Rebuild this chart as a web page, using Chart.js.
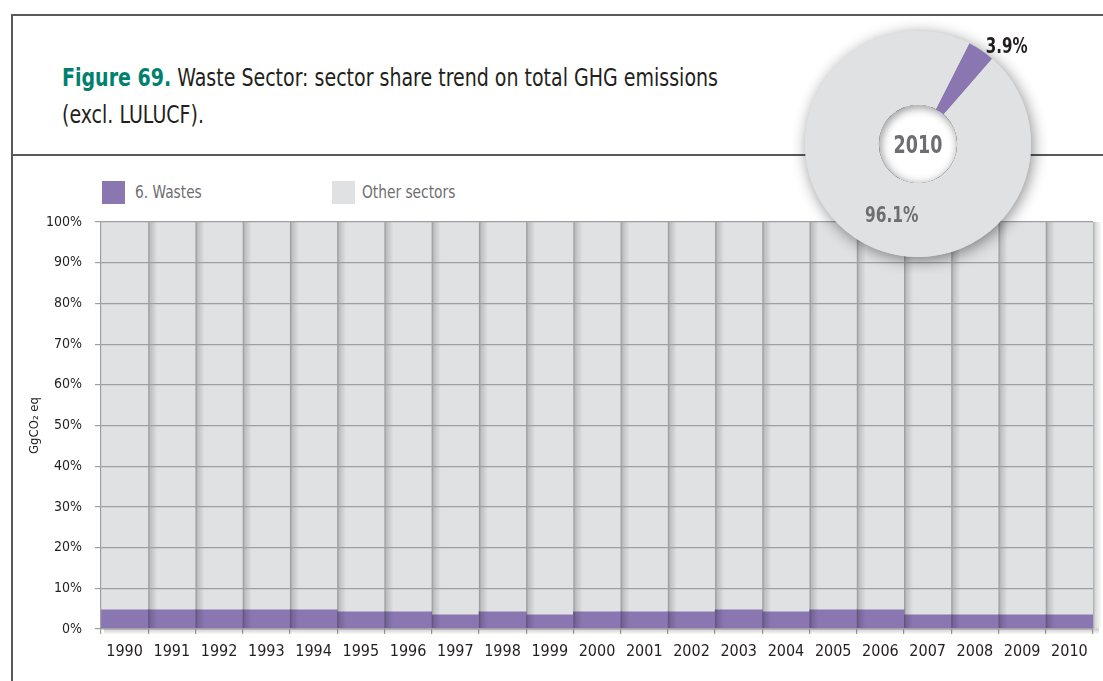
<!DOCTYPE html>
<html>
<head>
<meta charset="utf-8">
<script src="https://cdn.jsdelivr.net/npm/chart.js@4"></script>
<style>
  html, body { margin:0; padding:0; background:#fff; }
  body { width:1103px; height:681px; position:relative; overflow:hidden; font-family:"DejaVu Sans Condensed","DejaVu Sans",sans-serif; }
  .line { position:absolute; background:#58595b; }
  #title { position:absolute; left:62px; top:59px; font-size:25px; line-height:37px; color:#231f20; white-space:nowrap; transform:scaleX(0.845); transform-origin:0 0; }
  #title b { color:#00806f; }
  .lg-box { position:absolute; width:23px; height:23px; top:181px; }
  .lg-txt { position:absolute; top:181px; height:23px; line-height:23px; font-size:17px; color:#6d6e71; white-space:nowrap; transform:scaleX(0.9); transform-origin:0 50%; }
  canvas { position:absolute; }
</style>
</head>
<body>
<div class="line" style="left:11px; top:14px; width:1092px; height:1.5px;"></div>
<div class="line" style="left:11px; top:14px; width:1.5px; height:667px;"></div>
<div class="line" style="left:11px; top:154px; width:1092px; height:1.5px;"></div>
<div id="title"><b>Figure 69.</b> Waste Sector: sector share trend on total GHG emissions<br>(excl. LULUCF).</div>
<div class="lg-box" style="left:102px; background:#8a77b2;"></div>
<div class="lg-txt" style="left:135px;">6. Wastes</div>
<div class="lg-box" style="left:332px; background:#e0e1e3;"></div>
<div class="lg-txt" style="left:362px;">Other sectors</div>
<canvas id="bar" width="1103" height="681" style="left:0; top:0;"></canvas>
<canvas id="pie" width="260" height="260" style="left:788px; top:14px;"></canvas>
<script>
const years = ['1990','1991','1992','1993','1994','1995','1996','1997','1998','1999','2000','2001','2002','2003','2004','2005','2006','2007','2008','2009','2010'];
const wastes = [4.7,4.7,4.7,4.7,4.7,4.2,4.2,3.5,4.2,3.5,4.2,4.2,4.2,4.7,4.2,4.7,4.7,3.5,3.5,3.5,3.5];
const otherSectors = [95.3,95.3,95.3,95.3,95.3,95.8,95.8,96.5,95.8,96.5,95.8,95.8,95.8,95.3,95.8,95.3,95.3,96.5,96.5,96.5,96.5];
const yTicks = [0,10,20,30,40,50,60,70,80,90,100];
const pieLabels = ['6. Wastes','Other sectors'];
const pieValues = [3.9, 96.1];
const pieYear = '2010';

const PURPLE = '#8a77b2', GREY = '#e0e1e3', GRID = '#9d9fa2';
const FONT = '"DejaVu Sans Condensed","DejaVu Sans",sans-serif';

const barShade = {
  id: 'barShade',
  afterDatasetsDraw(chart) {
    const ctx = chart.ctx;
    const metas = chart.getSortedVisibleDatasetMetas();
    const base = metas[0].data;
    const top = metas[metas.length - 1].data;
    ctx.save();
    for (let i = 0; i < base.length; i++) {
      const b = base[i], t = top[i];
      const right = b.x + b.width / 2;
      const yTop = t.y, yBot = b.base;
      const g = ctx.createLinearGradient(right, 0, right + 9, 0);
      g.addColorStop(0, 'rgba(0,0,0,0.34)');
      g.addColorStop(0.25, 'rgba(0,0,0,0.15)');
      g.addColorStop(1, 'rgba(0,0,0,0)');
      ctx.fillStyle = g;
      ctx.fillRect(right, yTop, 9, yBot - yTop);
    }
    const first = base[0], last = base[base.length - 1];
    const x0 = first.x - first.width / 2, x1 = last.x + last.width / 2 + 6;
    const yb = first.base;
    const gb = ctx.createLinearGradient(0, yb, 0, yb + 6);
    gb.addColorStop(0, 'rgba(0,0,0,0.22)');
    gb.addColorStop(1, 'rgba(0,0,0,0)');
    ctx.fillStyle = gb;
    ctx.fillRect(x0 + 3, yb, x1 - x0 - 3, 6);
    ctx.restore();
  }
};

new Chart(document.getElementById('bar'), {
  type: 'bar',
  data: {
    labels: years,
    datasets: [
      { label: '6. Wastes', data: wastes, backgroundColor: PURPLE, borderWidth: 0 },
      { label: 'Other sectors', data: otherSectors, backgroundColor: GREY, borderWidth: 0 }
    ]
  },
  options: {
    responsive: false,
    animation: false,
    events: [],
    layout: { padding: { top: 222, left: 11, right: 10, bottom: 0 } },
    datasets: { bar: { barPercentage: 1, categoryPercentage: 1 } },
    plugins: { legend: { display: false }, tooltip: { enabled: false } },
    scales: {
      x: {
        stacked: true,
        grid: { offset: true, drawOnChartArea: false, tickLength: 5, color: GRID, lineWidth: 1.2 },
        border: { color: GRID, width: 1.2 },
        ticks: { color: '#231f20', font: { family: FONT, size: 16 }, padding: 8, maxRotation: 0, autoSkip: false },
        afterFit(scale) { scale.height = 52; }
      },
      y: {
        stacked: true,
        min: 0, max: 100,
        afterBuildTicks(scale) { scale.ticks = yTicks.map(v => ({ value: v })); },
        grid: { color: GRID, lineWidth: 1.2, tickLength: 6, z: 1 },
        border: { color: GRID, width: 1.2, z: 1 },
        ticks: { color: '#231f20', font: { family: FONT, size: 14 }, padding: 13, callback: v => v + '%' },
        title: { display: true, text: 'GgCO\u2082 eq', color: '#231f20', font: { family: FONT, size: 13 }, padding: { top: 16, bottom: 0 } },
        afterFit(scale) { scale.width = 90; }
      }
    }
  },
  plugins: [barShade]
});

function condensedText(ctx, text, x, y, sx) {
  ctx.save();
  ctx.translate(x, y);
  ctx.scale(sx, 1);
  ctx.fillText(text, 0, 0);
  ctx.restore();
}

const donutDecor = {
  id: 'donutDecor',
  beforeDatasetsDraw(chart) {
    const arc = chart.getDatasetMeta(0).data[0];
    const ctx = chart.ctx;
    ctx.save();
    ctx.shadowColor = 'rgba(0,0,0,0.45)';
    ctx.shadowBlur = 15;
    ctx.shadowOffsetX = 2;
    ctx.shadowOffsetY = 3;
    ctx.fillStyle = GREY;
    ctx.beginPath();
    ctx.arc(arc.x, arc.y, arc.outerRadius, 0, Math.PI * 2);
    ctx.fill();
    ctx.restore();
  },
  afterDatasetsDraw(chart) {
    const meta = chart.getDatasetMeta(0);
    const small = meta.data[0], big = meta.data[1];
    const ctx = chart.ctx;
    const cx = small.x, cy = small.y, ri = small.innerRadius, ro = small.outerRadius;
    ctx.save();
    ctx.fillStyle = '#ffffff';
    ctx.beginPath();
    ctx.arc(cx, cy, ri, 0, Math.PI * 2);
    ctx.fill();
    ctx.save();
    ctx.beginPath();
    ctx.arc(cx, cy, ri, 0, Math.PI * 2);
    ctx.clip();
    ctx.shadowColor = 'rgba(0,0,0,0.45)';
    ctx.shadowBlur = 10;
    ctx.shadowOffsetX = 1.5;
    ctx.shadowOffsetY = 2;
    ctx.lineWidth = 10;
    ctx.strokeStyle = 'rgba(0,0,0,1)';
    ctx.beginPath();
    ctx.arc(cx, cy, ri + 5, 0, Math.PI * 2);
    ctx.stroke();
    ctx.restore();
    ctx.textAlign = 'center';
    ctx.textBaseline = 'middle';
    ctx.fillStyle = '#6d6e71';
    ctx.font = 'bold 25px ' + FONT;
    condensedText(ctx, pieYear, cx, cy + 2, 0.78);
    const a1 = small.endAngle - 0.01;
    ctx.fillStyle = '#231f20';
    ctx.font = 'bold 21px ' + FONT;
    condensedText(ctx, pieValues[0].toFixed(1) + '%', cx + Math.cos(a1) * (ro + 22) + 1, cy + Math.sin(a1) * (ro + 22) + 6, 0.8);
    const a2 = big.startAngle + 0.465 * (big.endAngle - big.startAngle);
    const rm = (ri + ro) / 2 - 3;
    ctx.fillStyle = '#6d6e71';
    ctx.font = 'bold 22px ' + FONT;
    condensedText(ctx, pieValues[1].toFixed(1) + '%', cx + Math.cos(a2) * rm + 1, cy + Math.sin(a2) * rm + 5, 0.78);
    ctx.restore();
  }
};

new Chart(document.getElementById('pie'), {
  type: 'doughnut',
  data: {
    labels: pieLabels,
    datasets: [{ data: pieValues, backgroundColor: [PURPLE, GREY], borderWidth: 0 }]
  },
  options: {
    responsive: false,
    animation: false,
    events: [],
    radius: 113,
    cutout: 45,
    rotation: 27,
    plugins: { legend: { display: false }, tooltip: { enabled: false } }
  },
  plugins: [donutDecor]
});
</script>
</body>
</html>
